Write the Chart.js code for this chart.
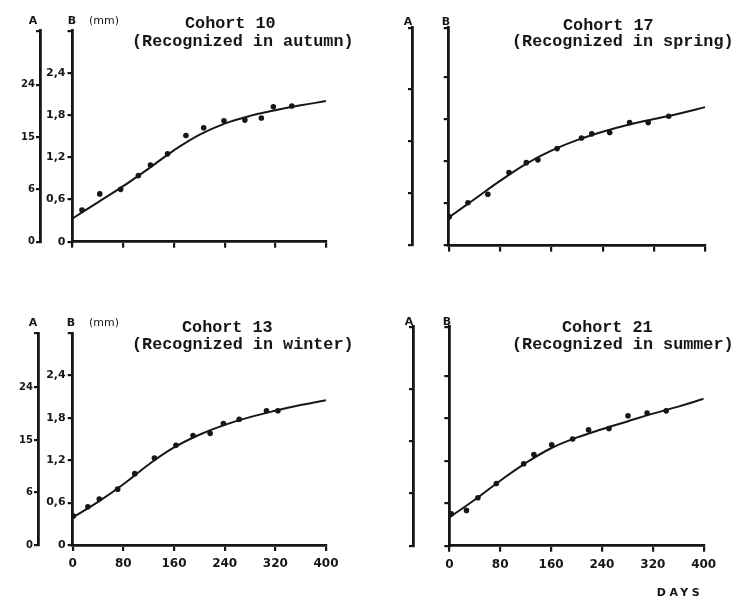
<!DOCTYPE html>
<html><head><meta charset="utf-8">
<script src="https://cdn.jsdelivr.net/npm/chart.js@4.4.1/dist/chart.umd.min.js"></script>
<style>
body{margin:0;background:#fff;width:734px;height:599px;position:relative;overflow:hidden}
canvas{position:absolute}
.t{position:absolute;font-family:"Liberation Mono",monospace;font-weight:bold;font-size:16.8px;line-height:1;color:#161616;white-space:pre}
.l{position:absolute;font-family:"DejaVu Sans",sans-serif;font-weight:bold;font-size:11px;line-height:1;color:#161616;transform:translate(-50%,-50%);white-space:nowrap}
</style></head><body>
<script>
// ---- data ----
const fitDays = [0,40,80,120,160,200,240,280,320,360,400];
const c10Days = [15,43,76,104,123,150,179,207,239,272,298,317,346];
const c10Len  = [0.45,0.68,0.745,0.94,1.09,1.25,1.51,1.62,1.72,1.73,1.76,1.92,1.93];
const c10Fit  = [0.33,0.56,0.79,1.04,1.30,1.52,1.68,1.79,1.87,1.94,2.00];
const c17Days = [1,30,61,94,121,139,169,207,223,251,282,311,343];
const c17Len  = [0.41,0.61,0.73,1.04,1.18,1.22,1.38,1.53,1.59,1.61,1.75,1.75,1.84];
const c17Fit  = [0.40,0.66,0.92,1.16,1.35,1.50,1.62,1.72,1.80,1.88,1.97];
const c13Days = [1,24,42,71,98,129,163,190,217,238,263,306,324];
const c13Len  = [0.41,0.54,0.65,0.79,1.01,1.23,1.41,1.55,1.58,1.72,1.78,1.90,1.90];
const c13Fit  = [0.39,0.61,0.86,1.14,1.38,1.56,1.70,1.81,1.90,1.98,2.05];
const c21Days = [3,27,45,74,117,133,161,194,219,251,281,311,341];
const c21Len  = [0.45,0.50,0.68,0.88,1.16,1.29,1.43,1.51,1.64,1.66,1.84,1.88,1.91];
const c21Fit  = [0.40,0.65,0.92,1.17,1.38,1.53,1.65,1.76,1.87,1.97,2.08];
const xTicks  = [0,80,160,240,320,400];
const bTicks  = [0,0.6,1.2,1.8,2.4];
const bLabels = ['0','0,6','1,2','1,8','2,4'];
const aTicks  = [0,1,2,3];
const aLabels = ['0','6','15','24'];

// ---- layout ----
const INK = '#161616';
const panels = [
  {left:0,   top:0,   w:367, h:300, days:c10Days, len:c10Len, fit:c10Fit, ca:{l:72.5,r:326,t:30.8,b:241.7}, aW:40, bMax:3.0, aMax:4.03, yLabels:true,  xLabels:false},
  {left:367, top:0,   w:367, h:300, days:c17Days, len:c17Len, fit:c17Fit, ca:{l:81.7,r:338.3,t:27.7,b:245.6}, aW:45, bMax:3.1, aMax:4.17, yLabels:false, xLabels:false},
  {left:0,   top:300, w:367, h:299, days:c13Days, len:c13Len, fit:c13Fit, ca:{l:72.7,r:326,t:33,b:245}, aW:38, bMax:3.0, aMax:4.04, yLabels:true,  xLabels:true},
  {left:367, top:300, w:367, h:299, days:c21Days, len:c21Len, fit:c21Fit, ca:{l:82.3,r:336.7,t:26.8,b:245.7}, aW:46, bMax:3.1, aMax:4.19, yLabels:false, xLabels:true}
];

function makePanel(p){
  const cv = document.createElement('canvas');
  cv.width = p.w; cv.height = p.h;
  cv.style.left = p.left + 'px'; cv.style.top = p.top + 'px';
  document.body.appendChild(cv);
  const xH = 30;
  const gridCfg = (len) => ({drawOnChartArea:false, drawTicks:true, tickLength:len, color:INK, lineWidth:2.2});
  const borderCfg = {display:true, color:INK, width:2.8};
  new Chart(cv, {
    type:'scatter',
    data:{datasets:[
      {data:p.days.map((d,i)=>({x:d,y:p.len[i]})), showLine:false, pointRadius:2.8,
       pointBackgroundColor:INK, pointBorderWidth:0, yAxisID:'yB'},
      {data:fitDays.map((d,i)=>({x:d,y:p.fit[i]})), showLine:true, pointRadius:0,
       borderColor:INK, borderWidth:2, tension:0.4, fill:false, yAxisID:'yB'}
    ]},
    options:{
      responsive:false, animation:false, devicePixelRatio:1, events:[],
      layout:{padding:{left:0, top:p.ca.t, right:p.w-p.ca.r, bottom:p.h-p.ca.b-xH}},
      plugins:{legend:{display:false}, tooltip:{enabled:false}},
      scales:{
        x:{type:'linear', position:'bottom', min:0, max:400,
           afterBuildTicks:s=>{ s.ticks = xTicks.map(v=>({value:v})); },
           afterFit:s=>{ s.height = xH; },
           ticks:{display:p.xLabels, autoSkip:false, maxRotation:0, padding:6, color:INK,
                  font:{family:'DejaVu Sans', weight:'bold', size:12}},
           grid:gridCfg(6), border:borderCfg},
        yB:{type:'linear', position:'left', weight:1, min:0, max:p.bMax,
           afterBuildTicks:s=>{ s.ticks = bTicks.concat([p.bMax]).map(v=>({value:v})); },
           afterFit:s=>{ s.width = p.ca.l - p.aW; },
           ticks:{display:p.yLabels, autoSkip:false, padding:2, color:INK,
                  font:{family:'DejaVu Sans', weight:'bold', size:11},
                  callback:(v,i)=> i < bLabels.length ? bLabels[i] : ''},
           grid:gridCfg(5), border:borderCfg},
        yA:{type:'linear', position:'left', weight:2, min:0, max:p.aMax,
           afterBuildTicks:s=>{ s.ticks = aTicks.concat([p.aMax]).map(v=>({value:v})); },
           afterFit:s=>{ s.width = p.aW; },
           ticks:{display:p.yLabels, autoSkip:false, padding:1, color:INK,
                  font:{family:'DejaVu Sans', weight:'bold', size:10},
                  callback:(v,i)=> i < aLabels.length ? aLabels[i] : ''},
           grid:gridCfg(4), border:borderCfg}
      }
    }
  });
}
panels.forEach(makePanel);

// ---- text overlays ----
function txt(cls, s, x, y){
  const d = document.createElement('div');
  d.className = cls; d.textContent = s;
  d.style.left = x + 'px'; d.style.top = y + 'px';
  document.body.appendChild(d);
  return d;
}
const titles = [
  ['Cohort 10', 185, 16], ['(Recognized in autumn)', 132, 34],
  ['Cohort 17', 563, 18], ['(Recognized in spring)', 512, 34],
  ['Cohort 13', 182, 320], ['(Recognized in winter)', 132, 337],
  ['Cohort 21', 562, 320], ['(Recognized in summer)', 512, 337]
];
titles.forEach(t => txt('t', t[0], t[1], t[2]));
const axisNames = [
  ['A', 33, 20], ['B', 72, 20], ['(mm)', 104, 20],
  ['A', 408, 21], ['B', 446, 21],
  ['A', 33, 322], ['B', 71, 322], ['(mm)', 104, 322],
  ['A', 409, 321], ['B', 447, 321]
];
axisNames.forEach(a => {
  const d = txt('l', a[0], a[1], a[2]);
  if (a[0] === '(mm)') d.style.fontWeight = 'normal';
});
const days = txt('l', 'DAYS', 680, 592);
days.style.letterSpacing = '3.5px';
</script>
</body></html>
